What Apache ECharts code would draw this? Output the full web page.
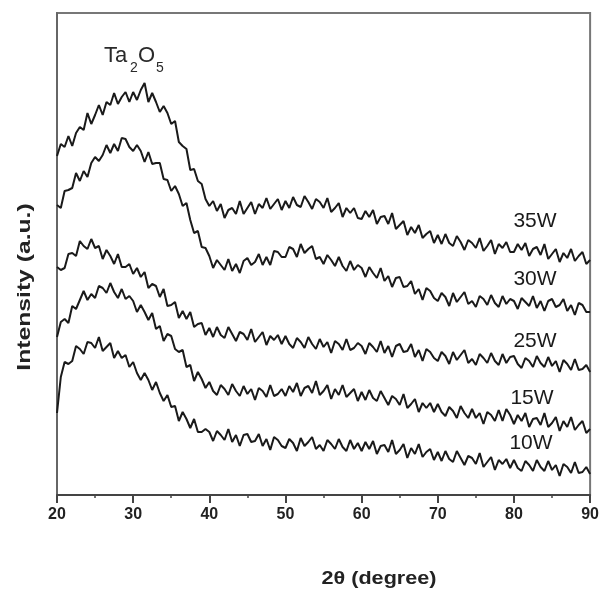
<!DOCTYPE html>
<html><head><meta charset="utf-8">
<script src="https://cdn.jsdelivr.net/npm/echarts@6/dist/echarts.min.js"></script>
<style>html,body{margin:0;padding:0;background:#fff}#c{width:602px;height:595px}</style>
</head><body><div id="c"></div>
<script>
// 2theta sampling: 20 to 90 degrees, step 0.5
const angleStart = 20, angleEnd = 90, angleStep = 0.5;
const xTicks = [20, 30, 40, 50, 60, 70, 80, 90];

// Intensity (a.u., offset curves), one row per 10 degrees
const w35 = [
 339,351,348,359,349,362,368,365,382,371,380,390,380,393,390,402,391,398,403,393,
 403,395,405,412,393,402,393,383,389,382,371,374,353,349,346,325,326,314,311,296,
 289,294,284,291,277,285,287,281,294,281,287,293,281,291,287,297,286,291,296,285,
 294,287,298,290,288,299,293,286,296,293,287,297,283,287,292,278,287,282,287,277,
 276,284,278,285,271,278,279,271,282,266,270,274,260,268,262,270,257,261,264,252,
 260,251,261,252,249,259,253,245,255,252,247,257,244,249,255,241,251,247,253,243,
 243,251,245,252,239,246,248,240,251,236,241,246,233,242,237,246,234,239,243,231,
 235];
const w30 = [
 290,287,304,305,307,322,314,324,318,332,338,334,340,350,342,351,344,357,356,348,
 344,350,344,333,343,331,332,332,316,315,304,309,301,289,292,275,262,264,248,247,
 239,227,235,230,225,236,224,231,222,234,237,230,233,241,230,238,230,244,243,238,
 238,248,246,238,251,242,246,249,236,238,231,240,235,229,238,229,224,234,225,230,
 227,218,228,222,217,227,214,219,208,217,218,208,209,214,201,206,195,207,204,197,
 194,202,198,189,202,193,198,203,191,194,188,199,196,190,200,192,188,199,191,196,
 194,186,197,193,189,199,187,194,184,194,196,188,190,196,184,190,180,192,190,183,
 183];
const w25 = [
 228,225,227,241,242,239,254,249,246,256,247,249,236,245,239,231,241,228,228,231,
 221,227,218,223,207,211,209,198,206,189,190,193,177,184,176,183,168,171,172,160,
 167,158,168,160,157,168,161,154,163,161,155,166,153,158,163,150,159,155,160,151,
 159,151,147,157,153,147,158,151,146,156,148,153,142,154,151,145,156,145,147,152,
 149,141,152,148,143,154,142,149,138,149,151,143,144,151,138,145,134,146,143,137,
 134,143,139,131,143,135,140,145,132,136,130,141,137,132,142,134,130,141,132,138,
 139,131,127,137,134,128,139,132,128,138,129,134,123,135,131,125,136,125,126,130,
 123];
const w15 = [
 158,173,176,172,189,186,195,204,195,201,197,209,207,202,212,203,197,206,196,199,
 194,183,190,183,175,182,166,169,154,161,159,146,143,145,128,130,114,123,116,107,
 113,104,100,110,106,100,111,104,99,109,101,106,95,107,104,98,110,99,101,106,
 99,109,103,112,99,107,109,102,114,100,104,110,96,106,100,110,98,102,106,94,
 103,95,105,97,94,104,97,90,99,96,90,101,87,91,96,83,92,87,92,83,
 91,83,79,88,84,77,89,82,77,86,77,82,71,83,80,74,85,74,86,80,
 71,80,74,82,68,76,77,70,82,68,72,78,64,74,68,78,65,70,74,62,
 66];
const w10 = [
 82,118,133,131,134,149,146,141,153,152,147,158,144,148,152,137,144,137,140,128,
 133,122,115,122,115,105,113,102,94,100,88,89,74,83,76,67,76,63,63,66,
 63,54,64,60,55,66,53,60,49,60,61,53,54,61,49,56,45,58,55,49,
 47,56,52,44,57,49,53,58,46,50,44,55,51,46,56,48,44,55,46,52,
 44,53,46,54,41,49,50,43,55,41,45,51,37,47,41,51,38,43,46,35,
 43,34,44,36,33,44,37,30,39,37,31,42,28,33,38,25,35,31,36,27,
 35,27,24,34,30,24,35,28,24,34,25,30,19,31,28,22,33,22,23,28,
 21];

const seriesNames = ['35W', '30W', '25W', '15W', '10W'];
const seriesValues = [w35, w30, w25, w15, w10];
const phaseLabel = ['Ta', '2', 'O', '5'];
const xAxisName = '2θ (degree)';
const yAxisName = 'Intensity (a.u.)';

const angles = [];
for (let a = angleStart; a <= angleEnd + 1e-9; a += angleStep) angles.push(+a.toFixed(2));

const FONT = '"Liberation Sans", Arial, Helvetica, sans-serif';
const chart = echarts.init(document.getElementById('c'), null, {renderer: 'canvas'});

// label placement (layout only)
const labelPos = [[535, 221], [535, 279], [535, 341], [532, 398], [531, 443]];

const graphics = [];
seriesNames.forEach((n, i) => {
  graphics.push({type: 'text', x: labelPos[i][0], y: labelPos[i][1], z: 10,
    style: {text: n, font: '21px ' + FONT, fill: '#1a1a1a', align: 'center', verticalAlign: 'middle'}});
});
// Ta2O5 with subscripts
graphics.push({type: 'text', x: 104, y: 56, style: {text: phaseLabel[0], font: '22px ' + FONT, fill: '#2a2a2a', align: 'left', verticalAlign: 'middle'}});
graphics.push({type: 'text', x: 130, y: 68, style: {text: phaseLabel[1], font: '14px ' + FONT, fill: '#2a2a2a', align: 'left', verticalAlign: 'middle'}});
graphics.push({type: 'text', x: 138, y: 56, style: {text: phaseLabel[2], font: '22px ' + FONT, fill: '#2a2a2a', align: 'left', verticalAlign: 'middle'}});
graphics.push({type: 'text', x: 156, y: 68, style: {text: phaseLabel[3], font: '14px ' + FONT, fill: '#2a2a2a', align: 'left', verticalAlign: 'middle'}});
// axis names
graphics.push({type: 'text', x: 379, y: 579, scaleX: 1.2,
  style: {text: xAxisName, font: 'bold 18px ' + FONT, fill: '#222', align: 'center', verticalAlign: 'middle'}});
graphics.push({type: 'text', x: 25, y: 287, rotation: Math.PI / 2, scaleX: 1.3,
  style: {text: yAxisName, font: 'bold 19px ' + FONT, fill: '#222', align: 'center', verticalAlign: 'middle'}});

const option = {
  animation: false,
  backgroundColor: '#fff',
  grid: {left: 57, right: 11, top: 13, bottom: 100, show: true, borderColor: '#777', borderWidth: 2, backgroundColor: 'transparent'},
  xAxis: {
    type: 'value', min: xTicks[0], max: xTicks[xTicks.length - 1], interval: 10,
    axisLine: {show: true, onZero: false, lineStyle: {color: '#444', width: 2}},
    axisTick: {show: true, inside: false, length: 8, lineStyle: {color: '#444', width: 2}},
    minorTick: {show: true, splitNumber: 2, length: 3, lineStyle: {color: '#444', width: 1.5}},
    axisLabel: {fontSize: 16, fontWeight: 'bold', color: '#222', margin: 12, fontFamily: FONT},
    splitLine: {show: false}
  },
  yAxis: {
    type: 'value', min: 0, max: 482,
    axisLine: {show: true, lineStyle: {color: '#666', width: 2}},
    axisTick: {show: false}, axisLabel: {show: false}, splitLine: {show: false}
  },
  series: seriesValues.map((vals, i) => ({
    name: seriesNames[i], type: 'line', showSymbol: false, symbol: 'none',
    data: vals.map((v, k) => [angles[k], v]),
    lineStyle: {color: '#1a1a1a', width: 2},
    z: 3
  })),
  graphic: graphics
};
chart.setOption(option);
</script></body></html>
